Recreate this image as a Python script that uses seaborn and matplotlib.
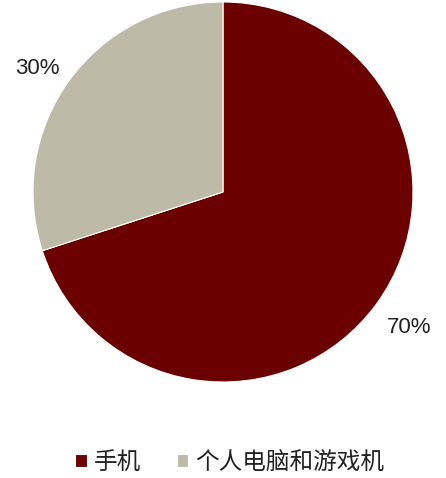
import matplotlib
matplotlib.use("Agg")
import matplotlib.pyplot as plt
import seaborn as sns

sns.set_style("white")
plt.rcParams['font.family'] = ['Liberation Sans', 'Noto Sans CJK SC', 'DejaVu Sans']

labels = ["手机", "个人电脑和游戏机"]
shares = [70, 30]
colors = ["#6B0000", "#BDBBA8"]

fig = plt.figure(figsize=(4.46, 4.78), dpi=100)
ax = fig.add_axes([33 / 446, 96 / 478, 380 / 446, 380 / 478])

wedges, texts, autotexts = ax.pie(
    shares, colors=colors, startangle=90, counterclock=False,
    autopct="%d%%", pctdistance=1.21,
    wedgeprops=dict(edgecolor="white", linewidth=0.8),
    textprops=dict(fontsize=16, color="#222222"),
)
# the 30% label sits a little lower in the original
autotexts[1].set_y(autotexts[1].get_position()[1] - 0.06)
ax.set_xlim(-1, 1)
ax.set_ylim(-1, 1)
ax.set_aspect("equal")

fig.legend(wedges, labels, loc="center", bbox_to_anchor=(0.515, 0.033),
           ncol=2, frameon=False, handlelength=0.5,
           handleheight=0.5, handletextpad=0.3, columnspacing=1.5,
           labelcolor="#222222",
           prop={'family': ['Noto Sans CJK SC', 'DejaVu Sans'], 'size': 17})

fig.savefig("out.png", dpi=100)
